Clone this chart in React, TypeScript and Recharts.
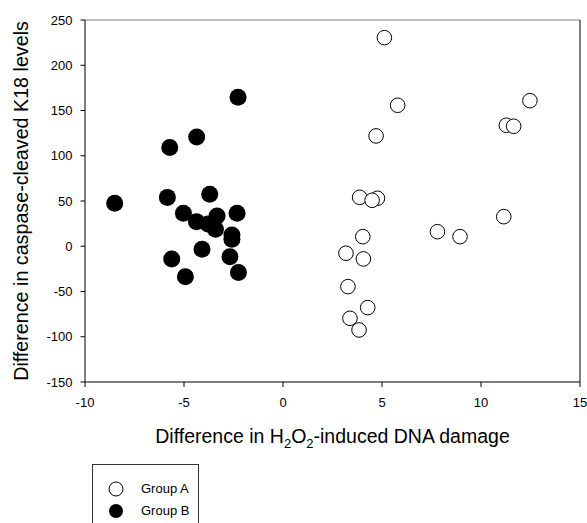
import React from "react";
import {
  ScatterChart,
  Scatter,
  XAxis,
  YAxis,
  ReferenceLine,
  Legend,
} from "recharts";

const FONT = "'Liberation Sans', Arial, Helvetica, sans-serif";

// Group A (open circles)
const groupAX = [5.12, 5.79, 12.47, 11.28, 11.65, 4.7, 3.87, 4.77, 4.5, 11.15, 7.8, 8.94, 4.03, 3.18, 4.06, 3.28, 4.28, 3.38, 3.84];
const groupAY = [230.5, 155.8, 160.9, 133.7, 132.6, 121.9, 54.1, 53, 50.8, 32.7, 16.1, 10.6, 10.6, -7.7, -14, -44.6, -67.8, -79.6, -92.5];

// Group B (filled circles)
const groupBX = [-8.5, -5.72, -4.36, -2.27, -5.84, -3.7, -5.03, -4.37, -3.79, -3.33, -3.41, -2.32, -2.58, -2.58, -4.09, -5.62, -4.93, -2.68, -2.25];
const groupBY = [47.5, 109, 120.8, 164.6, 54, 57.5, 36.5, 27.2, 24.6, 33.5, 18.8, 36.5, 12.5, 7.7, -3.3, -14, -33.6, -11.5, -29];

const xTicks = [-10, -5, 0, 5, 10, 15];
const yTicks = [-150, -100, -50, 0, 50, 100, 150, 200, 250];

const seriesNames = ["Group A", "Group B"];

const dataA = groupAX.map((x, i) => ({ x, y: groupAY[i] }));
const dataB = groupBX.map((x, i) => ({ x, y: groupBY[i] }));

const OpenCircle = (props: any) => (
  <circle cx={props.cx} cy={props.cy} r={7.3} fill="#fff" stroke="#000" strokeWidth={1} />
);
const FilledCircle = (props: any) => (
  <circle cx={props.cx} cy={props.cy} r={8.5} fill="#000" stroke="#000" strokeWidth={0} />
);

const YLabel = (props: any) => {
  const vb = props.viewBox || {};
  const cy = vb.y + vb.height / 2;
  const x = 20.3;
  return (
    <text
      x={x}
      y={cy}
      transform={`rotate(-90, ${x}, ${cy})`}
      textAnchor="middle"
      fontFamily={FONT}
      fontSize={19.7}
      fill="#000"
    >
      Difference in caspase-cleaved K18 levels
    </text>
  );
};

const XLabel = (props: any) => {
  const vb = props.viewBox || {};
  const cx = vb.x + vb.width / 2;
  const y = 435.3;
  return (
    <text x={cx} y={y} textAnchor="middle" fontFamily={FONT} fontSize={19.5} fill="#000">
      <tspan>Difference in H</tspan>
      <tspan fontSize={13} dy={5}>2</tspan>
      <tspan dy={-5}>O</tspan>
      <tspan fontSize={13} dy={5}>2</tspan>
      <tspan dy={-5}>-induced DNA damage</tspan>
    </text>
  );
};

const LegendBox = () => (
  <div style={{ height: 59, overflow: "hidden" }}>
    <div
      style={{
        width: 107,
        height: 80,
        border: "1px solid #333",
        boxSizing: "border-box",
        background: "#fff",
        position: "relative",
        fontFamily: FONT,
        fontSize: 13,
        color: "#000",
      }}
    >
      <svg width={30} height={60} style={{ position: "absolute", left: 14, top: 14 }}>
        <circle cx={9} cy={10} r={7} fill="#fff" stroke="#000" strokeWidth={1} />
        <circle cx={9} cy={32} r={7} fill="#000" />
      </svg>
      <div style={{ position: "absolute", left: 48, top: 15.5, lineHeight: "15px", whiteSpace: "nowrap" }}>
        {seriesNames[0]}
      </div>
      <div style={{ position: "absolute", left: 48, top: 37.5, lineHeight: "15px", whiteSpace: "nowrap" }}>
        {seriesNames[1]}
      </div>
    </div>
  </div>
);

const tickStyle = { fill: "#000", fontSize: 13, fontFamily: FONT };

export default function App() {
  return (
    <div style={{ position: "fixed", left: 8, top: 8, width: 579, height: 515, overflow: "hidden" }}>
      <ScatterChart
        width={579}
        height={515}
        margin={{ top: 12, right: 7, bottom: 111, left: 0 }}
        style={{ background: "#fff" }}
      >
        <XAxis
          type="number"
          dataKey="x"
          domain={[-10, 15]}
          ticks={xTicks}
          allowDataOverflow
          height={30}
          axisLine={{ stroke: "#000", strokeWidth: 1 }}
          tickLine={{ stroke: "#000", strokeWidth: 1 }}
          tickSize={5}
          tickMargin={11}
          fontSize={13}
          fontFamily={FONT}
          tick={tickStyle}
          interval={0}
          label={<XLabel />}
        />
        <YAxis
          type="number"
          dataKey="y"
          domain={[-150, 250]}
          ticks={yTicks}
          allowDataOverflow
          width={77}
          axisLine={{ stroke: "#000", strokeWidth: 1 }}
          tickLine={{ stroke: "#000", strokeWidth: 1 }}
          tickSize={4.5}
          tickMargin={8}
          fontSize={13}
          fontFamily={FONT}
          tick={tickStyle}
          interval={0}
          label={<YLabel />}
        />
        <ReferenceLine y={250} stroke="#808080" strokeWidth={1} ifOverflow="visible" />
        <ReferenceLine x={15} stroke="#000" strokeWidth={1} ifOverflow="visible" />
        <Scatter name={seriesNames[0]} data={dataA} shape={OpenCircle} isAnimationActive={false} />
        <Scatter name={seriesNames[1]} data={dataB} shape={FilledCircle} isAnimationActive={false} />
        <Legend
          layout="vertical"
          align="center"
          verticalAlign="middle"
          content={<LegendBox />}
          wrapperStyle={{ position: "absolute", left: 84, top: 456, width: 107, height: 59 }}
        />
      </ScatterChart>
    </div>
  );
}
